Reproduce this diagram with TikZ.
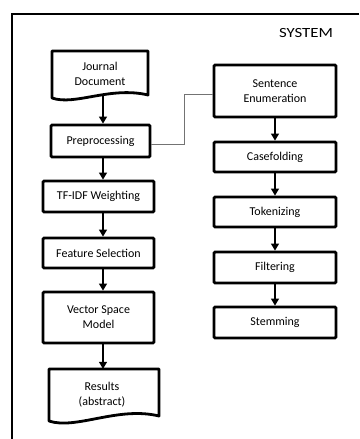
\documentclass[tikz,border=0pt]{standalone}
\usepackage{fontspec}
\usepackage{graphicx}
\setmainfont{Carlito}
\usetikzlibrary{arrows.meta}
\tikzset{
  box/.style={draw=black, line width=2.8pt, rounded corners=1.2pt, rectangle, align=center, inner sep=0pt, font=\fontsize{12}{15}\selectfont},
  doctext/.style={rectangle, align=center, inner sep=0pt, font=\fontsize{12}{15}\selectfont},
  docline/.style={draw=black, line width=2.8pt, line join=round},
  arr/.style={draw=black, line width=1.3pt, -{Triangle[width=8pt,length=7pt]}},
  link/.style={draw=black!55, line width=1.4pt},
  frame/.style={draw=black, line width=2pt}
}
\begin{document}
\begin{tikzpicture}[x=1pt,y=-1pt]
\useasboundingbox (0,0) rectangle (359,439);
% outer frame
\draw[frame] (359,14) -- (12,14) -- (12,439);
\node[font=\fontsize{14}{14}\selectfont] (sys) at (306,33) {\scalebox{1.2}[1]{SYSTEM}};
\coordinate (ax) at (103,0);
\coordinate (bx) at (275,0);

% left column
\node[doctext, minimum width=96pt, minimum height=44pt] (jd) at (100,73.5) {Journal\\Document};
\draw[docline] (52,98) -- (52,51) -- (148,51) -- (148,95) .. controls (110,86) and (75,106) .. (52,98) -- cycle;
\node[box, minimum width=99pt, minimum height=32pt] (pre) at (100.5,141) {Preprocessing};
\node[box, minimum width=111pt, minimum height=31pt] (tf) at (98.5,196.5) {TF-IDF Weighting};
\node[box, minimum width=111pt, minimum height=30pt] (fs) at (98.5,253) {Feature Selection};
\node[box, minimum width=111pt, minimum height=51pt] (vsm) at (98.5,317.5) {Vector Space\\Model};
\node[doctext, minimum width=110pt, minimum height=52pt] (res) at (102,395) {Results\\(abstract)};
\draw[docline] (49,421) -- (49,369) -- (159,369) -- (159,416) .. controls (118,406) and (76,430) .. (49,421) -- cycle;

% right column
\node[box, minimum width=122pt, minimum height=52pt] (se) at (275,91) {Sentence\\Enumeration};
\node[box, minimum width=122pt, minimum height=30pt] (cf) at (275,157) {Casefolding};
\node[box, minimum width=122pt, minimum height=30pt] (tk) at (275,212) {Tokenizing};
\node[box, minimum width=122pt, minimum height=31pt] (fi) at (275,267.5) {Filtering};
\node[box, minimum width=122pt, minimum height=31pt] (st) at (275,322.5) {Stemming};

% arrows
\draw[arr] (jd.south -| ax) -- (pre.north -| ax);
\draw[arr] (pre.south -| ax) -- (tf.north -| ax);
\draw[arr] (tf.south -| ax) -- (fs.north -| ax);
\draw[arr] (fs.south -| ax) -- (vsm.north -| ax);
\draw[arr] (vsm.south -| ax) -- (res.north -| ax);
\draw[arr] (se.south -| bx) -- (cf.north -| bx);
\draw[arr] (cf.south -| bx) -- (tk.north -| bx);
\draw[arr] (tk.south -| bx) -- (fi.north -| bx);
\draw[arr] (fi.south -| bx) -- (st.north -| bx);

% link
\draw[link] ([yshift=-3.5pt]pre.east) -- ++(33,0) |- ([yshift=-3.5pt]se.west);
\end{tikzpicture}
\end{document}
